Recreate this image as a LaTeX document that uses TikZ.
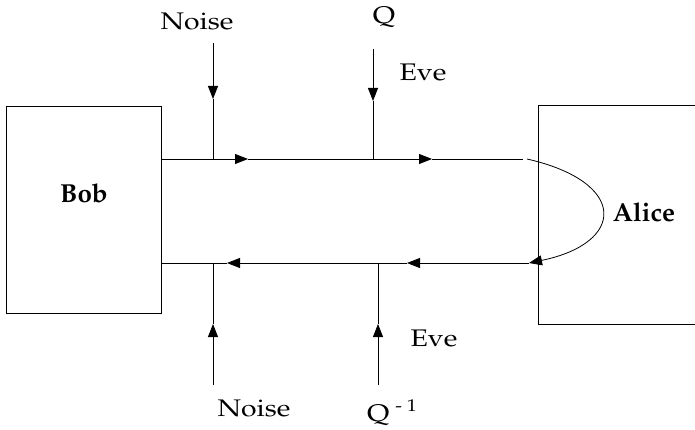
\documentclass[tikz,border=0pt]{standalone}
\usepackage[T1]{fontenc}
\usepackage{mathpazo}
\usepackage{graphicx}
\usetikzlibrary{arrows.meta}
\newcommand{\widetext}[1]{\scalebox{1.18}[1]{#1}}
\tikzset{
  box/.style={draw, line width=1pt, inner sep=0pt},
  wire/.style={line width=0.8pt},
  arr/.style={wire, -{Triangle[length=13pt,width=10pt]}},
  lbl/.style={font=\fontsize{24}{26}\selectfont, inner sep=0pt},
  blbl/.style={font=\fontsize{26}{28}\selectfont\bfseries, inner sep=0pt}
}
\begin{document}
\begin{tikzpicture}[x=1pt,y=-1pt]
\useasboundingbox (0,0) rectangle (695,430);
% boxes
\node[box, minimum width=155pt, minimum height=206pt] (bob) at (83.5,210) {};
\node[box, minimum width=160pt, minimum height=218pt] (alice) at (618,215) {};
\node[blbl] (boblbl) at (84,193) {Bob};
\node[blbl] (alicelbl) at (644,212) {Alice};
% coordinates for the channel
\coordinate (t0) at (161,159);
\coordinate (ta1) at (248,159);
\coordinate (tn) at (213,159);
\coordinate (tq) at (373,159);
\coordinate (ta2) at (432,159);
\coordinate (t1) at (523,159);
\coordinate (b0) at (161,263);
\coordinate (ba1) at (227,263);
\coordinate (bn) at (213,263);
\coordinate (bq) at (378,263);
\coordinate (ba2) at (407,263);
\coordinate (b1) at (529,263);
\coordinate (c0) at (527,159);
% top line
\draw[arr] (t0) -- (ta1);
\draw[wire] (ta1) -- (tq);
\draw[arr] (tq) -- (ta2);
\draw[wire] (ta2) -- (t1);
% bottom line
\draw[arr] (b1) -- (ba2);
\draw[wire] (ba2) -- (bq);
\draw[arr] (bq) -- (ba1);
\draw[wire] (ba1) -- (b0);
% loop in Alice
\draw[arr] (c0) .. controls (628,182) and (626,243) .. (b1);
% vertical inputs
\coordinate (n1s) at (213,43);
\coordinate (n1a) at (213,99);
\draw[arr] (n1s) -- (n1a);
\draw[wire] (n1a) -- (tn);
\coordinate (q1s) at (373,49);
\coordinate (q1a) at (373,101);
\draw[arr] (q1s) -- (q1a);
\draw[wire] (q1a) -- (tq);
\coordinate (n2s) at (213,385);
\coordinate (n2a) at (213,324);
\draw[arr] (n2s) -- (n2a);
\draw[wire] (n2a) -- (bn);
\coordinate (q2s) at (378,385);
\coordinate (q2a) at (378,324);
\draw[arr] (q2s) -- (q2a);
\draw[wire] (q2a) -- (bq);
% labels
\node[lbl] (noise1) at (197,21) {\widetext{Noise}};
\node[lbl] (q1) at (384,17) {\widetext{Q}};
\node[lbl] (eve1) at (423,72) {\widetext{Eve}};
\node[lbl] (eve2) at (434,338) {\widetext{Eve}};
\node[lbl] (noise2) at (254,408) {\widetext{Noise}};
\node[lbl, anchor=base west] (q2) at (367,421) {\widetext{Q\hspace{5pt}\raisebox{10pt}{\fontsize{17}{18}\selectfont -\hspace{4pt}1}}};
\end{tikzpicture}
\end{document}
